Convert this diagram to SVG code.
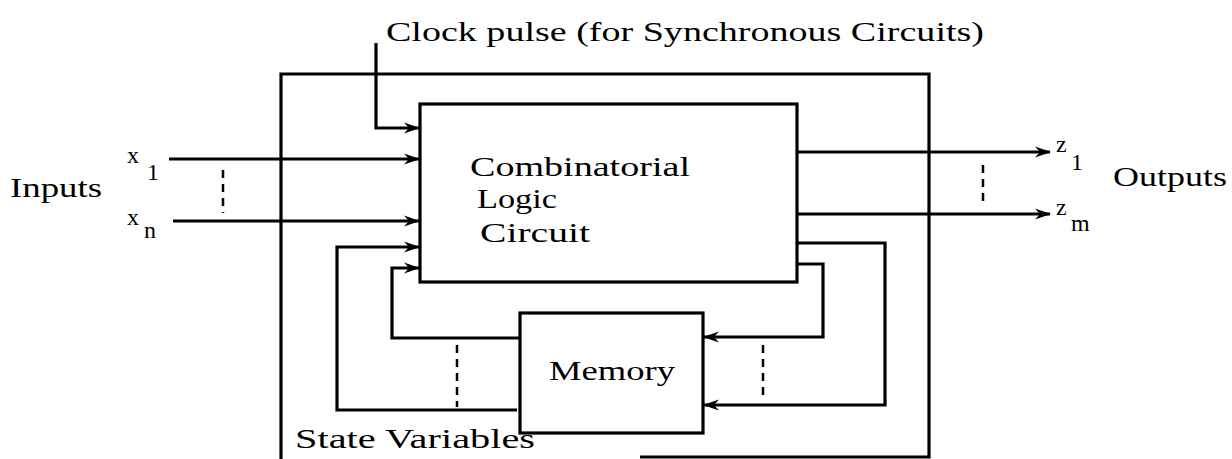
<svg xmlns="http://www.w3.org/2000/svg" width="1232" height="459" viewBox="0 0 1232 459">
<style>
.ln{fill:none;stroke:#000;stroke-width:3.2;stroke-linejoin:miter}
.bx{fill:#fff;stroke:#000;stroke-width:3.2}
.ds{fill:none;stroke:#000;stroke-width:2.5;stroke-dasharray:8 6}
text{font-family:"Liberation Serif","DejaVu Serif",serif;fill:#000}
.t{font-size:28px}
.s{font-size:24px}
</style>
<defs>
<marker id="ah" markerUnits="userSpaceOnUse" markerWidth="16" markerHeight="12" refX="15" refY="6" orient="auto">
<path d="M0,0.5 L16,6 L0,11.5 L5,6 z" fill="#000"/>
</marker>
</defs>
<g id="outer"><path class="ln" d="M281,459 V74 H929 V457 H640" stroke-width="2.5"/></g>
<g id="connectors">
<path class="ln" d="M376,43 V128 H419" marker-end="url(#ah)"/>
<path class="ln" d="M169,159 H419" marker-end="url(#ah)"/>
<path class="ln" d="M173,221 H419" marker-end="url(#ah)"/>
<path class="ln" d="M517,410 H337 V247 H419" marker-end="url(#ah)"/>
<path class="ln" d="M520,338 H392 V268 H419" marker-end="url(#ah)"/>
<path class="ln" d="M797,152 H1050" marker-end="url(#ah)"/>
<path class="ln" d="M797,214 H1050" marker-end="url(#ah)"/>
<path class="ln" d="M797,264 H823 V337 H704" marker-end="url(#ah)"/>
<path class="ln" d="M797,243 H885 V405 H704" marker-end="url(#ah)"/>
<line class="ds" x1="223" y1="170" x2="223" y2="213"/>
<line class="ds" x1="983" y1="165" x2="983" y2="202"/>
<line class="ds" x1="457" y1="345" x2="457" y2="407"/>
<line class="ds" x1="763" y1="345" x2="763" y2="400"/>
</g>
<g id="combinational">
<rect class="bx" x="420" y="104" width="377" height="178"/>
<text class="t" x="470" y="176" textLength="220" lengthAdjust="spacingAndGlyphs">Combinatorial</text>
<text class="t" x="477" y="208" textLength="80" lengthAdjust="spacingAndGlyphs">Logic</text>
<text class="t" x="480" y="242" textLength="110" lengthAdjust="spacingAndGlyphs">Circuit</text>
</g>
<g id="memory">
<rect class="bx" x="520" y="313" width="183" height="120"/>
<text class="t" x="549" y="380" textLength="126" lengthAdjust="spacingAndGlyphs">Memory</text>
</g>
<g id="labels">
<text class="t" x="386" y="41" textLength="598" lengthAdjust="spacingAndGlyphs">Clock pulse (for Synchronous Circuits)</text>
<text class="t" x="10" y="197" textLength="92" lengthAdjust="spacingAndGlyphs">Inputs</text>
<text class="t" x="1113" y="186" textLength="114" lengthAdjust="spacingAndGlyphs">Outputs</text>
<text class="s" x="127" y="163">x</text>
<text class="s" x="147" y="180">1</text>
<text class="s" x="127" y="225">x</text>
<text class="s" x="144" y="238">n</text>
<text class="s" x="1056" y="152">z</text>
<text class="s" x="1071" y="170">1</text>
<text class="s" x="1056" y="215">z</text>
<text class="s" x="1071" y="231">m</text>
<text class="t" x="295" y="448" textLength="240" lengthAdjust="spacingAndGlyphs">State Variables</text>
</g>
</svg>
